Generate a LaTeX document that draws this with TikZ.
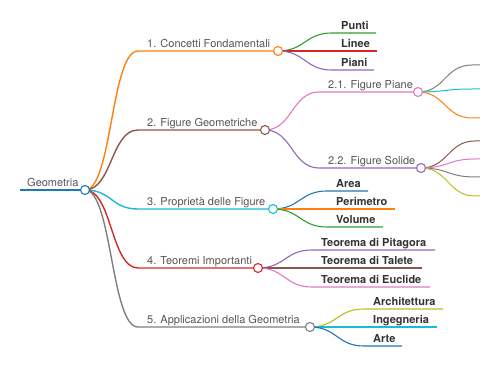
\documentclass[tikz,border=0pt]{standalone}
\usepackage{fontspec}
\setmainfont{TeX Gyre Heros}
\usetikzlibrary{calc}
\definecolor{cblue}{HTML}{1F77B4}
\definecolor{corange}{HTML}{FF7F0E}
\definecolor{cgreen}{HTML}{2CA02C}
\definecolor{cred}{HTML}{D62728}
\definecolor{cpurple}{HTML}{9467BD}
\definecolor{cbrown}{HTML}{8C564B}
\definecolor{cpink}{HTML}{E377C2}
\definecolor{cgray}{HTML}{7F7F7F}
\definecolor{colive}{HTML}{BCBD22}
\definecolor{ccyan}{HTML}{17BECF}
\definecolor{txtgray}{HTML}{555555}
\definecolor{txtdark}{HTML}{333333}
\pgfdeclarelayer{background}
\pgfsetlayers{background,main}
\tikzset{
  lbl/.style={anchor=base west, inner sep=0pt, font=\fontsize{11}{13}\selectfont, text=txtgray},
  leaf/.style={anchor=base west, inner sep=0pt, font=\fontsize{11}{13}\selectfont\bfseries, text=txtdark},
  dot/.style={circle, draw, fill=white, minimum size=9pt, inner sep=0pt, line width=1.1pt},
  lzero/.style={line width=1.8pt},
  lone/.style={line width=1.4pt},
  ltwo/.style={line width=1.1pt},
  lthree/.style={line width=1pt},
  curve/.style={to path={.. controls +(27,0) and +(-27,0) .. (\tikztotarget)}}
}
\begin{document}
\begin{tikzpicture}[x=1pt,y=-1pt]
\useasboundingbox (0,0) rectangle (480,379);
\clip (0,0) rectangle (480,379);
% root
\coordinate (r0) at (20,190);
\node[lbl] (t0) at (27,186.5) {Geometria};
\node[dot,draw=cblue] (c0) at (85,190) {};
% level 1
\coordinate (s1) at (138,51);  \node[lbl] (t1) at (147,47.5) {1. Concetti Fondamentali};
\node[dot,draw=corange] (c1) at (278,51) {};
\coordinate (s2) at (138,130); \node[lbl] (t2) at (147,126.5) {2. Figure Geometriche};
\node[dot,draw=cbrown] (c2) at (265,130) {};
\coordinate (s3) at (138,209); \node[lbl] (t3) at (147,205.5) {3. Proprietà delle Figure};
\node[dot,draw=ccyan] (c3) at (273,209) {};
\coordinate (s4) at (138,268); \node[lbl] (t4) at (147,264.5) {4. Teoremi Importanti};
\node[dot,draw=cred] (c4) at (258,268) {};
\coordinate (s5) at (138,327); \node[lbl] (t5) at (147,323.5) {5. Applicazioni della Geometria};
\node[dot,draw=cgray] (c5) at (310,327) {};
% level 2 under 1
\coordinate (s11) at (332,33); \coordinate (e11) at (376,33); \node[leaf] (t11) at (341,29.5) {Punti};
\coordinate (s12) at (332,51); \coordinate (e12) at (377,51); \node[leaf] (t12) at (341,47.5) {Linee};
\coordinate (s13) at (332,70); \coordinate (e13) at (374,70); \node[leaf] (t13) at (341,66.5) {Piani};
% level 2 under 2
\coordinate (s21) at (319,92);  \node[lbl] (t21) at (328,88.5) {2.1. Figure Piane};
\node[dot,draw=cpink] (c21) at (418,92) {};
\coordinate (s22) at (319,168); \node[lbl] (t22) at (328,164.5) {2.2. Figure Solide};
\node[dot,draw=cpurple] (c22) at (421,168) {};
% level 3 under 2.1 and 2.2 (off the edge)
\coordinate (s211) at (472,65);  \coordinate (e211) at (490,65);
\coordinate (s212) at (472,89);  \coordinate (e212) at (490,89);
\coordinate (s213) at (472,118); \coordinate (e213) at (490,118);
\coordinate (s221) at (475,141); \coordinate (e221) at (490,141);
\coordinate (s222) at (475,159); \coordinate (e222) at (490,159);
\coordinate (s223) at (475,177); \coordinate (e223) at (490,177);
\coordinate (s224) at (475,196); \coordinate (e224) at (490,196);
% level 2 under 3
\coordinate (s31) at (327,191); \coordinate (e31) at (368,191); \node[leaf] (t31) at (336,187.5) {Area};
\coordinate (s32) at (327,209); \coordinate (e32) at (395,209); \node[leaf] (t32) at (336,205.5) {Perimetro};
\coordinate (s33) at (327,227); \coordinate (e33) at (383,227); \node[leaf] (t33) at (336,223.5) {Volume};
% level 2 under 4
\coordinate (s41) at (312,250); \coordinate (e41) at (435,250); \node[leaf] (t41) at (321,246.5) {Teorema di Pitagora};
\coordinate (s42) at (312,268); \coordinate (e42) at (422,268); \node[leaf] (t42) at (321,264.5) {Teorema di Talete};
\coordinate (s43) at (312,287); \coordinate (e43) at (430,287); \node[leaf] (t43) at (321,283.5) {Teorema di Euclide};
% level 2 under 5
\coordinate (s51) at (364,309); \coordinate (e51) at (443,309); \node[leaf] (t51) at (373,305.5) {Architettura};
\coordinate (s52) at (364,327); \coordinate (e52) at (437,327); \node[leaf] (t52) at (373,323.5) {Ingegneria};
\coordinate (s53) at (364,346); \coordinate (e53) at (402,346); \node[leaf] (t53) at (373,342.5) {Arte};

\begin{pgfonlayer}{background}
\draw[lzero,cblue] (r0) -- (c0.center);
\draw[lone,corange] (c0.center) to[curve] (s1) -- (c1.center);
\draw[lone,cbrown]  (c0.center) to[curve] (s2) -- (c2.center);
\draw[lone,ccyan]   (c0.center) to[curve] (s3) -- (c3.center);
\draw[lone,cred]    (c0.center) to[curve] (s4) -- (c4.center);
\draw[lone,cgray]   (c0.center) to[curve] (s5) -- (c5.center);
\draw[ltwo,cgreen]  (c1.center) to[curve] (s11) -- (e11);
\draw[ltwo,cred]    (c1.center) to[curve] (s12) -- (e12);
\draw[ltwo,cpurple] (c1.center) to[curve] (s13) -- (e13);
\draw[ltwo,cpink]   (c2.center) to[curve] (s21) -- (c21.center);
\draw[ltwo,cpurple] (c2.center) to[curve] (s22) -- (c22.center);
\draw[lthree,cgray]   (c21.center) to[curve] (s211) -- (e211);
\draw[lthree,ccyan]   (c21.center) to[curve] (s212) -- (e212);
\draw[lthree,corange] (c21.center) to[curve] (s213) -- (e213);
\draw[lthree,cbrown]  (c22.center) to[curve] (s221) -- (e221);
\draw[lthree,cpink]   (c22.center) to[curve] (s222) -- (e222);
\draw[lthree,cgray]   (c22.center) to[curve] (s223) -- (e223);
\draw[lthree,colive]  (c22.center) to[curve] (s224) -- (e224);
\draw[ltwo,cblue]   (c3.center) to[curve] (s31) -- (e31);
\draw[ltwo,corange] (c3.center) to[curve] (s32) -- (e32);
\draw[ltwo,cgreen]  (c3.center) to[curve] (s33) -- (e33);
\draw[ltwo,cpurple] (c4.center) to[curve] (s41) -- (e41);
\draw[ltwo,cbrown]  (c4.center) to[curve] (s42) -- (e42);
\draw[ltwo,cpink]   (c4.center) to[curve] (s43) -- (e43);
\draw[ltwo,colive]  (c5.center) to[curve] (s51) -- (e51);
\draw[ltwo,ccyan]   (c5.center) to[curve] (s52) -- (e52);
\draw[ltwo,cblue]   (c5.center) to[curve] (s53) -- (e53);
\end{pgfonlayer}
\end{tikzpicture}
\end{document}
